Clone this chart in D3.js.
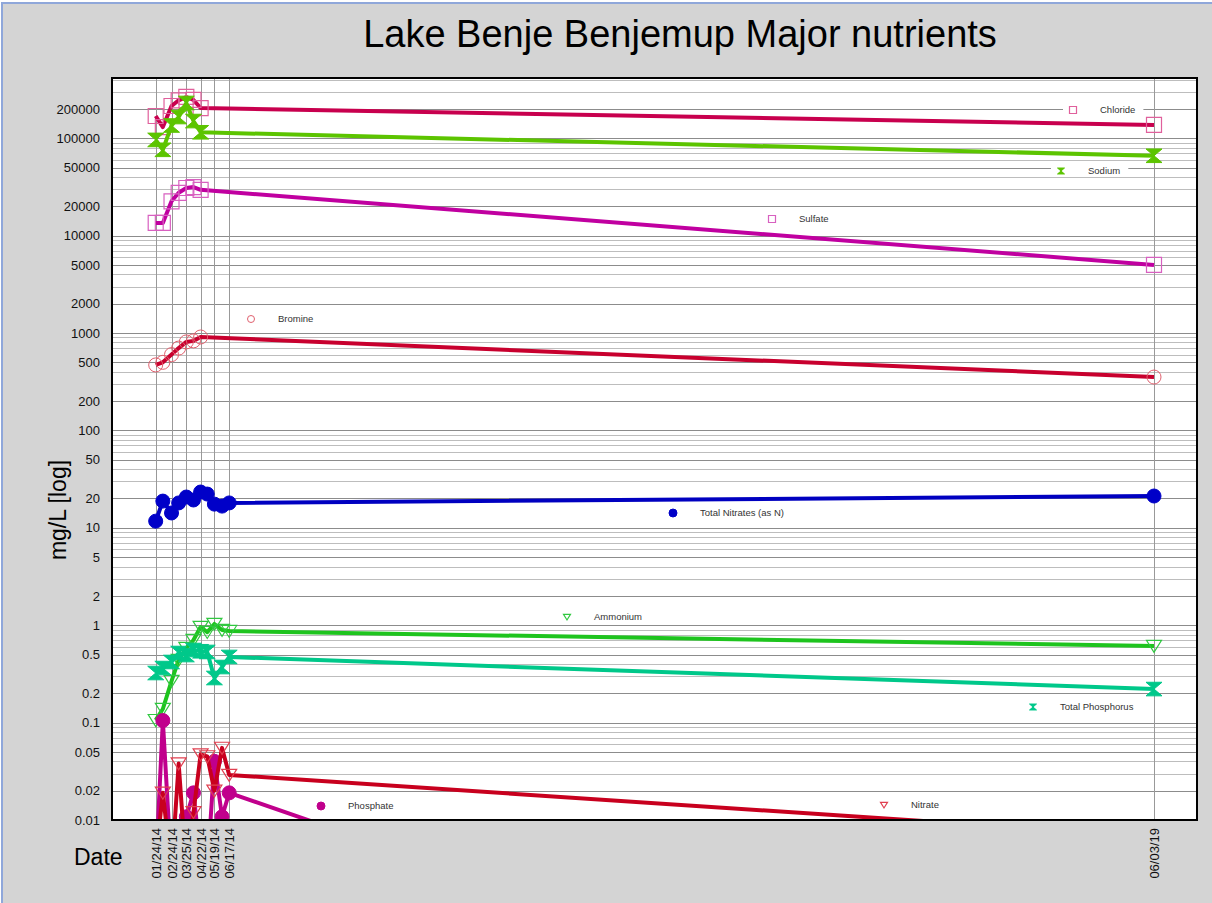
<!DOCTYPE html>
<html>
<head>
<meta charset="utf-8">
<script src="https://cdn.jsdelivr.net/npm/d3@7"></script>
<style>
  html, body { margin: 0; padding: 0; background: #ffffff; }
  svg { display: block; font-family: Arial, "Liberation Sans", sans-serif; }
</style>
</head>
<body>
<svg id="chart" width="1212" height="903"></svg>
<script>
// ---------------- DATA ----------------
const title = "Lake Benje Benjemup Major nutrients";
const sampleDates = ["2014-01-24","2014-02-07","2014-02-24","2014-03-10","2014-03-25","2014-04-08",
                     "2014-04-22","2014-05-05","2014-05-19","2014-06-03","2014-06-17","2019-06-03"];
const tickDates = ["2014-01-24","2014-02-24","2014-03-25","2014-04-22","2014-05-19","2014-06-17","2019-06-03"];
const tickDateLabels = ["01/24/14","02/24/14","03/25/14","04/22/14","05/19/14","06/17/14","06/03/19"];
const yTickValues = [200000,100000,50000,20000,10000,5000,2000,1000,500,200,100,50,20,10,5,2,1,0.5,0.2,0.1,0.05,0.02,0.01];
const yTickLabels = ["200000","100000","50000","20000","10000","5000","2000","1000","500","200","100","50","20","10","5","2","1","0.5","0.2","0.1","0.05","0.02","0.01"];

const chloride        = [169000,130000,214000,245000,265000,247000,204000,null,null,null,null,137000];
const sodium          = [96000,76000,135000,165000,230000,150000,115000,null,null,null,null,66000];
const sulfate         = [13500,13500,22500,27500,30800,31500,29500,null,null,null,null,5000];
const bromine         = [470,500,600,700,810,830,910,null,null,null,null,353];
const totalNitrates   = [11.7,18.8,14.2,18,20.7,19.3,23.3,22.2,17.5,16.7,18,21.2];
const ammonium        = [0.106,0.138,0.267,0.44,0.583,0.705,0.959,0.85,1.03,0.893,0.87,0.611];
const totalPhosphorus = [0.323,0.363,0.419,0.518,0.494,0.556,0.54,0.531,0.287,0.372,0.472,0.221];
const phosphate       = [0.003,0.105,0.003,0.003,0.0108,0.019,0.004,0.003,0.04,0.0108,0.019,0.00001];
const nitrate         = [0.004,0.019,0.003,0.038,0.003,0.012,0.047,0.045,0.02,0.055,0.029,0.0068];

const seriesNames = ["Chloride","Sodium","Sulfate","Bromine","Total Nitrates (as N)","Ammonium","Total Phosphorus","Phosphate","Nitrate"];
const seriesValues = [chloride,sodium,sulfate,bromine,totalNitrates,ammonium,totalPhosphorus,phosphate,nitrate];

// ---------------- STYLE / LAYOUT ----------------
const styles = {
  "Chloride":              {line:"#c8004e", mark:"#e0609c", shape:"square",   fill:false},
  "Sodium":                {line:"#5cc400", mark:"#5cc400", shape:"hourglass",fill:true},
  "Sulfate":               {line:"#c000a0", mark:"#d860c0", shape:"square",   fill:false},
  "Bromine":               {line:"#c8002e", mark:"#e0606e", shape:"circle",   fill:false},
  "Total Nitrates (as N)": {line:"#0000c0", mark:"#0000c8", shape:"dot",      fill:true},
  "Ammonium":              {line:"#1ec41e", mark:"#30c840", shape:"tridown",  fill:false},
  "Total Phosphorus":      {line:"#00c88a", mark:"#00c88a", shape:"hourglass",fill:true},
  "Phosphate":             {line:"#c0008c", mark:"#c0008c", shape:"dot",      fill:true},
  "Nitrate":               {line:"#c8001e", mark:"#e04050", shape:"tridown",  fill:false}
};
const legendPos = {
  "Chloride": [1073,110], "Sodium": [1061,171], "Sulfate": [772,219], "Bromine": [251,319],
  "Total Nitrates (as N)": [673,513], "Ammonium": [567,617], "Total Phosphorus": [1033,707],
  "Phosphate": [321,806], "Nitrate": [884,805]
};

const W = 1212, H = 903;
const plot = {left:112, right:1197, top:78, bottom:820};

const svg = d3.select("#chart");
svg.append("rect").attr("x",2).attr("y",3).attr("width",W+4).attr("height",H+4)
   .attr("fill","#d4d4d4").attr("stroke","#8fa7da").attr("stroke-width",2);

svg.append("text").attr("x",680).attr("y",47).attr("text-anchor","middle")
   .attr("font-size",38).attr("fill","#000").text(title);

const parse = d3.utcParse("%Y-%m-%d");
const x = d3.scaleUtc().domain([parse("2014-01-24"), parse("2019-06-03")]).range([155.7, 1154]);
const y = d3.scaleLog().domain([0.01, 415000]).range([plot.bottom, plot.top]);

svg.append("rect").attr("x",plot.left).attr("y",plot.top)
   .attr("width",plot.right-plot.left).attr("height",plot.bottom-plot.top).attr("fill","#fff");

svg.append("clipPath").attr("id","clip").append("rect")
   .attr("x",plot.left).attr("y",plot.top).attr("width",plot.right-plot.left).attr("height",plot.bottom-plot.top);

// horizontal gridlines (minor log grid)
const gridVals = [];
for (let e = -2; e <= 5; e++) for (let k = 1; k <= 9; k++) {
  const v = k * Math.pow(10, e);
  if (v >= 0.01 && v <= 415000) gridVals.push(+v.toPrecision(6));
}
const majorSet = new Set(yTickValues.map(v => +v.toPrecision(6)));
const gGrid = svg.append("g");
gGrid.selectAll("line.h").data(gridVals).join("line")
  .attr("x1",plot.left).attr("x2",plot.right)
  .attr("y1",d=>Math.round(y(d))+0.5).attr("y2",d=>Math.round(y(d))+0.5)
  .attr("stroke",d=>majorSet.has(d)?"#8c8c8c":"#bdbdbd").attr("stroke-width",1);
// vertical gridlines
gGrid.selectAll("line.v").data(tickDates).join("line")
  .attr("x1",d=>Math.round(x(parse(d)))+0.5).attr("x2",d=>Math.round(x(parse(d)))+0.5)
  .attr("y1",plot.top).attr("y2",plot.bottom).attr("stroke","#999").attr("stroke-width",1);

// y axis labels
const yAxis = d3.axisLeft(y).tickValues(yTickValues).tickFormat((d,i)=>yTickLabels[i]).tickSize(0).tickPadding(0);
const gy = svg.append("g").attr("transform",`translate(100,0)`).call(yAxis);
gy.select(".domain").remove();
gy.selectAll("text").attr("font-size",13).attr("fill","#111").attr("font-family","Arial, 'Liberation Sans', sans-serif");

// x axis labels
const xAxis = d3.axisBottom(x).tickValues(tickDates.map(parse)).tickFormat((d,i)=>tickDateLabels[i]).tickSize(0).tickPadding(0);
const gx = svg.append("g").attr("transform",`translate(0,${plot.bottom+8})`).call(xAxis);
gx.select(".domain").remove();
gx.selectAll("text").attr("font-size",13).attr("fill","#111")
  .attr("font-family","Arial, 'Liberation Sans', sans-serif")
  .attr("text-anchor","end").attr("transform","rotate(-90)")
  .attr("x",0).attr("y",0).attr("dx",0).attr("dy","0.35em");

// axis titles
svg.append("text").attr("transform","translate(66,510) rotate(-90)").attr("text-anchor","middle")
   .attr("font-size",23).attr("fill","#000").text("mg/L [log]");
svg.append("text").attr("x",74).attr("y",865).attr("font-size",23).attr("fill","#000").text("Date");

// marker shapes
function markerPath(shape, s) {
  const h = s/2;
  switch (shape) {
    case "square": return `M${-h},${-h}H${h}V${h}H${-h}Z`;
    case "hourglass": return `M${-h},${-h*0.85}H${h}L0,0Z M${-h},${h*0.85}H${h}L0,0Z`;
    case "tridown": return `M${-h},${-h*0.75}H${h}L0,${h*0.85}Z`;
    default: return null;
  }
}
function drawMarker(g, shape, st, cx, cy, s) {
  if (shape === "circle" || shape === "dot") {
    g.append("circle").attr("cx",cx).attr("cy",cy).attr("r",s/2)
      .attr("fill", st.fill ? st.mark : "none").attr("stroke", st.mark).attr("stroke-width",1);
  } else {
    g.append("path").attr("transform",`translate(${cx},${cy})`).attr("d",markerPath(shape,s))
      .attr("fill", st.fill ? st.mark : "none").attr("stroke", st.mark)
      .attr("stroke-width", st.fill ? 1 : 1.2).attr("stroke-linejoin","miter");
  }
}

// legend backgrounds + labels
const gLeg = svg.append("g");
seriesNames.forEach(name => {
  const [lx, ly] = legendPos[name];
  const st = styles[name];
  const t = gLeg.append("text").attr("x",lx+27).attr("y",ly).attr("dy","0.35em")
    .attr("font-size",9.5).attr("fill","#333").text(name);
  const bb = t.node().getBBox();
  gLeg.insert("rect","text").attr("x",lx-10).attr("y",ly-6).attr("width",bb.x+bb.width+8-(lx-10)).attr("height",12).attr("fill","#fff");
  drawMarker(gLeg, st.shape, st, lx, ly, st.shape==="dot"?8:7);
});

// series
const gSeries = svg.append("g").attr("clip-path","url(#clip)");
const dates = sampleDates.map(parse);
seriesNames.forEach((name, si) => {
  const vals = seriesValues[si];
  const st = styles[name];
  const pts = dates.map((d,i)=>({d, v: vals[i]})).filter(p => p.v != null);
  const line = d3.line().x(p=>x(p.d)).y(p=>y(p.v));
  gSeries.append("path").attr("d", line(pts)).attr("fill","none")
    .attr("stroke", st.line).attr("stroke-width",4).attr("stroke-linejoin","round");
  const size = (st.shape==="dot"||st.shape==="circle") ? 14 : (st.shape==="hourglass" ? 16 : 15);
  pts.filter(p => p.v >= 0.01).forEach(p => drawMarker(gSeries, st.shape, st, x(p.d), y(p.v), size));
});

// plot frame
svg.append("rect").attr("x",plot.left).attr("y",plot.top)
   .attr("width",plot.right-plot.left).attr("height",plot.bottom-plot.top)
   .attr("fill","none").attr("stroke","#000").attr("stroke-width",2);
</script>
</body>
</html>
